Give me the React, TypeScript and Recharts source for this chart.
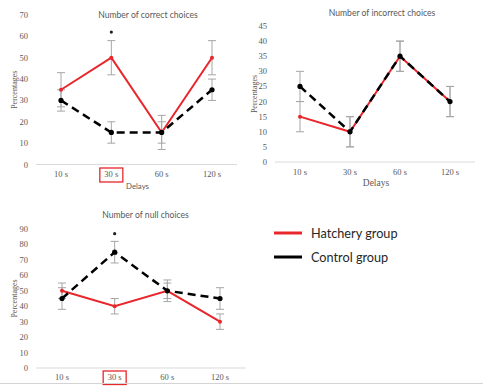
import { LineChart, Line, XAxis, YAxis, ErrorBar, ReferenceDot, Legend } from "recharts";

const delays = ["10 s", "30 s", "60 s", "120 s"];
const boxedDelay = "30 s";
const legendOrder = ["Hatchery group", "Control group"];

// Number of correct choices
const correctHatchery = [35, 50, 15, 50];
const correctHatcheryErr = [8, 8, 8, 8];
const correctControl = [30, 15, 15, 35];
const correctControlErr = [5, 5, 5, 5];
const correctTicks = [0, 10, 20, 30, 40, 50, 60, 70];
const correctStar = 62;

// Number of incorrect choices
const incorrectHatchery = [15, 10, 35, 20];
const incorrectHatcheryErr = [5, 5, 5, 5];
const incorrectControl = [25, 10, 35, 20];
const incorrectControlErr = [5, 5, 5, 5];
const incorrectTicks = [0, 5, 10, 15, 20, 25, 30, 35, 40, 45];

// Number of null choices
const nullHatchery = [50, 40, 50, 30];
const nullHatcheryErr = [5, 5, 5, 5];
const nullControl = [45, 75, 50, 45];
const nullControlErr = [7, 7, 7, 7];
const nullTicks = [0, 10, 20, 30, 40, 50, 60, 70, 80, 90];
const nullStar = 87;

const RED = "#e8262b";
const GREY = "#595959";
const ERR_GREY = "#a6a6a6";
const SERIF = "'Liberation Serif', serif";
const SANS = "Lato, sans-serif";

function rows(h: number[], he: number[], c: number[], ce: number[]) {
  return delays.map((d, i) => ({
    delay: d,
    hatchery: h[i],
    hatcheryErr: he[i],
    control: c[i],
    controlErr: ce[i],
  }));
}

function DelayTick({ x, y, payload, dy, boxTop, boxH, withBox }: any) {
  const boxed = withBox && payload.value === boxedDelay;
  return (
    <g>
      {boxed && (
        <rect x={x - 11.5} y={y + boxTop} width={23} height={boxH} fill="none" stroke={RED} strokeWidth={1.3} />
      )}
      <text x={x} y={y + dy} textAnchor="middle" fill={GREY} fontSize={8.5} fontFamily={SERIF}>
        {payload.value}
      </text>
    </g>
  );
}

function SideLabel({ viewBox }: any) {
  const cx = 14;
  const cy = viewBox.y + viewBox.height / 2;
  return (
    <text
      x={cx}
      y={cy}
      transform={`rotate(-90 ${cx} ${cy})`}
      textAnchor="middle"
      dominantBaseline="central"
      fill={GREY}
      fontSize={8}
      fontFamily={SERIF}
    >
      Percentages
    </text>
  );
}

function BottomLabel({ viewBox, dy, family, size }: any) {
  return (
    <text x={viewBox.x + viewBox.width / 2 + 1} y={viewBox.y + dy} textAnchor="middle" fill={GREY} fontSize={size} fontFamily={family}>
      Delays
    </text>
  );
}

function renderLegend(props: any) {
  const items = [...(props.payload || [])].sort(
    (a: any, b: any) => legendOrder.indexOf(a.value) - legendOrder.indexOf(b.value)
  );
  return (
    <div>
      {items.map((it: any) => (
        <div key={it.value} style={{ display: "flex", alignItems: "center", height: 24 }}>
          <svg width={33} height={6}>
            <line x1={4} y1={3} x2={32} y2={3} stroke={it.color} strokeWidth={3} />
          </svg>
          <span style={{ marginLeft: 8, fontFamily: SANS, fontSize: 12.7, color: "#262626" }}>{it.value}</span>
        </div>
      ))}
    </div>
  );
}

function Title({ text, x, y }: { text: string; x: number; y: number }) {
  return (
    <div
      style={{
        position: "absolute",
        left: x,
        top: y - 6,
        transform: "translateX(-50%)",
        whiteSpace: "nowrap",
        fontFamily: SANS,
        fontSize: 8.6,
        lineHeight: "12px",
        color: GREY,
      }}
    >
      {text}
    </div>
  );
}

const hatcheryLine = (
  <Line
    key="h"
    dataKey="hatchery"
    name="Hatchery group"
    stroke={RED}
    strokeWidth={2}
    dot={{ r: 2, fill: RED, stroke: RED, strokeWidth: 0 }}
    isAnimationActive={false}
  >
    <ErrorBar dataKey="hatcheryErr" width={4} stroke={ERR_GREY} strokeWidth={1} />
  </Line>
);

const controlLine = (
  <Line
    key="c"
    dataKey="control"
    name="Control group"
    stroke="#000"
    strokeWidth={2.5}
    strokeDasharray="8 5"
    dot={{ r: 2.6, fill: "#000", stroke: "#000", strokeWidth: 0 }}
    isAnimationActive={false}
  >
    <ErrorBar dataKey="controlErr" width={4} stroke={ERR_GREY} strokeWidth={1} />
  </Line>
);

export default function App() {
  const correctData = rows(correctHatchery, correctHatcheryErr, correctControl, correctControlErr);
  const incorrectData = rows(incorrectHatchery, incorrectHatcheryErr, incorrectControl, incorrectControlErr);
  const nullData = rows(nullHatchery, nullHatcheryErr, nullControl, nullControlErr);

  return (
    <div style={{ position: "absolute", left: 0, top: 0, width: 483, height: 386, background: "#fff", overflow: "hidden" }}>
      {/* correct choices */}
      <div style={{ position: "absolute", left: 0, top: 0 }}>
        <LineChart width={240} height={195} data={correctData} margin={{ top: 15, right: 3, bottom: 0.5, left: 0 }}>
          <XAxis
            dataKey="delay"
            height={30}
            padding={{ left: 25, right: 25 }}
            stroke="#d9d9d9"
            tickLine={false}
            tickSize={0}
            tickMargin={0}
            interval={0}
            tick={<DelayTick dy={12} boxTop={3.5} boxH={14} withBox />}
            label={<BottomLabel dy={24.5} family={SANS} size={7.8} />}
          />
          <YAxis
            width={36}
            domain={[0, 70]}
            ticks={correctTicks}
            interval={0}
            axisLine={false}
            tickLine={false}
            tick={{ fill: GREY, fontSize: 8.5, fontFamily: SERIF }}
            label={<SideLabel />}
          />
          {hatcheryLine}
          {controlLine}
          <ReferenceDot x={boxedDelay} y={correctStar} r={1.6} fill="#222" stroke="none" />
        </LineChart>
      </div>
      <Title text="Number of correct choices" x={148} y={15} />

      {/* incorrect choices */}
      <div style={{ position: "absolute", left: 240, top: 0 }}>
        <LineChart width={243} height={195} data={incorrectData} margin={{ top: 26, right: 8, bottom: 0, left: 0 }}>
          <XAxis
            dataKey="delay"
            height={33}
            padding={{ left: 25, right: 25 }}
            stroke="#d9d9d9"
            tickLine={false}
            tickSize={0}
            tickMargin={0}
            interval={0}
            tick={<DelayTick dy={12.5} boxTop={4} boxH={14} withBox={false} />}
            label={<BottomLabel dy={23.5} family={SERIF} size={9.5} />}
          />
          <YAxis
            width={35}
            domain={[0, 45]}
            ticks={incorrectTicks}
            interval={0}
            axisLine={false}
            tickLine={false}
            tick={{ fill: GREY, fontSize: 8.5, fontFamily: SERIF }}
            label={<SideLabel />}
          />
          {hatcheryLine}
          {controlLine}
        </LineChart>
      </div>
      <Title text="Number of incorrect choices" x={382} y={13} />

      {/* null choices */}
      <div style={{ position: "absolute", left: 0, top: 200 }}>
        <LineChart width={483} height={186} data={nullData} margin={{ top: 29, right: 237, bottom: 0, left: 0 }}>
          <XAxis
            dataKey="delay"
            height={18}
            padding={{ left: 26, right: 26 }}
            stroke="#d9d9d9"
            tickLine={false}
            tickSize={0}
            tickMargin={0}
            interval={0}
            tick={<DelayTick dy={11.5} boxTop={3} boxH={13.5} withBox />}
          />
          <YAxis
            width={36}
            domain={[0, 90]}
            ticks={nullTicks}
            interval={0}
            axisLine={false}
            tickLine={false}
            tick={{ fill: GREY, fontSize: 8.5, fontFamily: SERIF }}
            label={<SideLabel />}
          />
          {hatcheryLine}
          {controlLine}
          <ReferenceDot x={boxedDelay} y={nullStar} r={1.6} fill="#222" stroke="none" />
          <Legend
            layout="vertical"
            align="center"
            verticalAlign="middle"
            wrapperStyle={{ left: 270, top: 21, width: 180, height: 48 }}
            content={renderLegend}
          />
        </LineChart>
      </div>
      <Title text="Number of null choices" x={145.5} y={215} />

      <div style={{ position: "absolute", left: 0, top: 383, width: 483, height: 1, background: "#d4d4d4" }} />
    </div>
  );
}
